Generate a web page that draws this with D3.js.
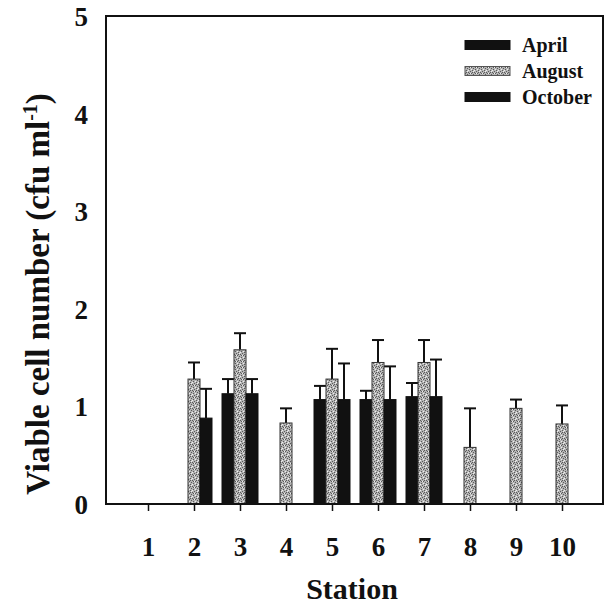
<!DOCTYPE html>
<html>
<head>
<meta charset="utf-8">
<script src="https://cdn.jsdelivr.net/npm/d3@7"></script>
<style>
  html, body { margin: 0; padding: 0; background: #fff; }
  svg { display: block; }
  text { font-family: "Liberation Serif", "Times New Roman", serif; font-weight: bold; fill: #111; }
</style>
</head>
<body>
<svg id="chart" width="606" height="610"></svg>
<script>
// ---- data ----
const stations = [1, 2, 3, 4, 5, 6, 7, 8, 9, 10];
const seriesNames = ["April", "August", "October"];
const aprilMean   = [null, null, 1.13, null, 1.07, 1.07, 1.10, null, null, null];
const aprilErr    = [null, null, 0.15, null, 0.14, 0.09, 0.14, null, null, null];
const augustMean  = [null, 1.28, 1.58, 0.83, 1.28, 1.45, 1.45, 0.58, 0.98, 0.82];
const augustErr   = [null, 0.17, 0.17, 0.15, 0.31, 0.23, 0.23, 0.40, 0.09, 0.19];
const octoberMean = [null, 0.88, 1.13, null, 1.07, 1.07, 1.10, null, null, null];
const octoberErr  = [null, 0.30, 0.15, null, 0.37, 0.34, 0.38, null, null, null];
const yTicks = [0, 1, 2, 3, 4, 5];
const yTitle = "Viable cell number (cfu ml";
const xTitle = "Station";

const svg = d3.select("#chart");

// pattern for stippled grey bars
const defs = svg.append("defs");
const pat = defs.append("pattern").attr("id", "stipple")
  .attr("patternUnits", "userSpaceOnUse").attr("width", 6).attr("height", 6);
pat.append("rect").attr("width", 6).attr("height", 6).attr("fill", "#b4b4b4");
[[0,0],[3,1],[1,3],[4,4],[2,5],[5,2],[1,1],[4,0]].forEach(([a,b]) =>
  pat.append("rect").attr("x", a).attr("y", b).attr("width", 1).attr("height", 1).attr("fill", "#5a5a5a"));
[[2,1],[5,5],[0,4],[3,3]].forEach(([a,b]) =>
  pat.append("rect").attr("x", a).attr("y", b).attr("width", 1).attr("height", 1).attr("fill", "#eeeeee"));

const frame = {left: 106, right: 603, top: 16, bottom: 504};
const x = d3.scaleLinear().domain([1, 10]).range([148, 562]);
const y = d3.scaleLinear().domain([0, 5]).range([frame.bottom, frame.top]);
const inner = d3.scaleBand().domain(seriesNames).range([-18, 18]).padding(0);

const fills = {April: "#111", August: "url(#stipple)", October: "#111"};
const means = {April: aprilMean, August: augustMean, October: octoberMean};
const errs  = {April: aprilErr, August: augustErr, October: octoberErr};

const rows = [];
seriesNames.forEach(s => {
  stations.forEach((st, i) => {
    if (means[s][i] != null) rows.push({s, st, v: means[s][i], e: errs[s][i]});
  });
});

// error bars (behind bars)
const eg = svg.append("g");
rows.forEach(d => {
  const cx = x(d.st) + inner(d.s) + inner.bandwidth() / 2;
  eg.append("line").attr("x1", cx).attr("x2", cx)
    .attr("y1", y(d.v)).attr("y2", y(d.v + d.e))
    .attr("stroke", "#111").attr("stroke-width", 2);
  eg.append("line").attr("x1", cx - 6).attr("x2", cx + 6)
    .attr("y1", y(d.v + d.e)).attr("y2", y(d.v + d.e))
    .attr("stroke", "#111").attr("stroke-width", 2);
});

// bars
svg.append("g").selectAll("rect").data(rows).join("rect")
  .attr("x", d => x(d.st) + inner(d.s))
  .attr("y", d => y(d.v))
  .attr("width", inner.bandwidth())
  .attr("height", d => y(0) - y(d.v))
  .attr("fill", d => fills[d.s])
  .attr("stroke", d => d.s === "August" ? "#333" : "#111")
  .attr("stroke-width", 1);

// frame
svg.append("rect").attr("x", frame.left).attr("y", frame.top)
  .attr("width", frame.right - frame.left).attr("height", frame.bottom - frame.top)
  .attr("fill", "none").attr("stroke", "#111").attr("stroke-width", 2);

// x axis ticks & labels
const xAxis = d3.axisBottom(x).tickValues(stations).tickSize(7).tickPadding(26).tickFormat(d3.format("d"));
const gx = svg.append("g").attr("transform", `translate(0,${frame.bottom})`).call(xAxis);
gx.select(".domain").remove();
gx.selectAll(".tick line").attr("stroke", "#111").attr("stroke-width", 1.5);
gx.selectAll(".tick text").attr("font-size", 27).attr("font-family", "Liberation Serif").attr("font-weight", "bold").attr("fill", "#111");

// y axis labels
const yAxis = d3.axisLeft(y).tickValues(yTicks).tickSize(0).tickPadding(18).tickFormat(d3.format("d"));
const gy = svg.append("g").attr("transform", `translate(${frame.left},0)`).call(yAxis);
gy.select(".domain").remove();
gy.selectAll(".tick text").attr("font-size", 27).attr("font-family", "Liberation Serif").attr("font-weight", "bold").attr("fill", "#111").attr("dy", "0.35em");

// titles
svg.append("text").attr("x", 352).attr("y", 599).attr("text-anchor", "middle")
  .attr("font-size", 30).text(xTitle);
const yt = svg.append("text").attr("transform", "translate(49,294) rotate(-90)")
  .attr("text-anchor", "middle").attr("font-size", 33);
yt.append("tspan").text(yTitle);
yt.append("tspan").attr("font-size", 20).attr("dy", -12).text("-1");
yt.append("tspan").attr("dy", 12).text(")");

// legend
const lg = svg.append("g");
seriesNames.forEach((s, i) => {
  const cy = 45 + i * 26;
  lg.append("rect").attr("x", 465).attr("y", cy - 4.5).attr("width", 45).attr("height", 9)
    .attr("fill", fills[s]).attr("stroke", s === "August" ? "#555" : "#111").attr("stroke-width", 1);
  lg.append("text").attr("x", 522).attr("y", cy + 7).attr("font-size", 20).text(s);
});
</script>
</body>
</html>
